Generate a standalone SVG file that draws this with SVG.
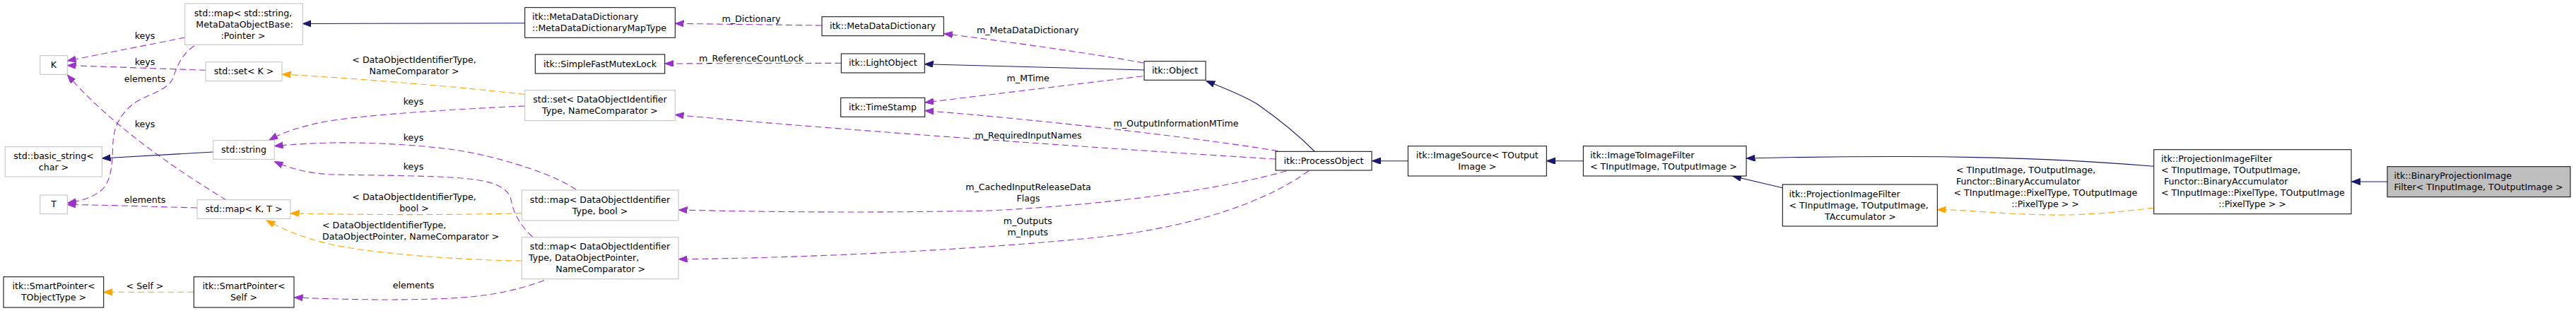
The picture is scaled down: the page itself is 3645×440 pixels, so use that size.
<svg xmlns="http://www.w3.org/2000/svg" width="3645" height="440" viewBox="0 0 3645 440">
<defs>
<style>
text{font-family:"DejaVu Sans","Liberation Sans",sans-serif;font-size:12.6px;fill:#000}
.m{text-anchor:middle}
.s{text-anchor:start}
.nb{fill:#fff;stroke:#000;stroke-width:1}
.ng{fill:#fff;stroke:#bfbfbf;stroke-width:1}
.nf{fill:#bfbfbf;stroke:#000;stroke-width:1}
.inh{fill:none;stroke:#191970;stroke-width:1.1;marker-end:url(#aN)}
.use{fill:none;stroke:#9a32cd;stroke-width:1.1;stroke-dasharray:9,5;marker-end:url(#aP)}
.tpl{fill:none;stroke:#ffa500;stroke-width:1.1;stroke-dasharray:9,5;marker-end:url(#aO)}
</style>
<marker id="aN" markerUnits="userSpaceOnUse" markerWidth="14" markerHeight="11" refX="12" refY="4.5" orient="auto"><path d="M0,0 L12,4.5 L0,9 z" fill="#191970" stroke="#191970" stroke-width="1"/></marker>
<marker id="aP" markerUnits="userSpaceOnUse" markerWidth="14" markerHeight="11" refX="12" refY="4.5" orient="auto"><path d="M0,0 L12,4.5 L0,9 z" fill="#9a32cd" stroke="#9a32cd" stroke-width="1"/></marker>
<marker id="aO" markerUnits="userSpaceOnUse" markerWidth="14" markerHeight="11" refX="12" refY="4.5" orient="auto"><path d="M0,0 L12,4.5 L0,9 z" fill="#ffa500" stroke="#ffa500" stroke-width="1"/></marker>
</defs>
<rect x="0" y="0" width="3645" height="440" fill="#fff"/>

<g id="connectors">
<path class="inh" d="M742.7,32.7 L428.5,33.5"/>
<path class="use" d="M262,53 L95.5,86"/>
<text class="m" x="205" y="55.2">keys</text>
<path class="use" d="M291,99.3 L95.5,92.5"/>
<text class="m" x="205" y="92.2">keys</text>
<path class="use" d="M275,65 C258,75 250,95 245,110 C238,130 200,135 185,150 C165,168 160,185 159.5,210 C159,240 155,262 140,272 C125,282 110,285 96,287"/>
<text class="m" x="205" y="116.2">elements</text>
<path class="use" d="M320,283 C250,240 160,180 95.5,106"/>
<text class="m" x="205" y="180.2">keys</text>
<path class="use" d="M279,294 C200,292 150,290 95.5,289.5"/>
<text class="m" x="205" y="287.2">elements</text>
<path class="inh" d="M301.7,215 L144.5,224"/>
<path class="tpl" d="M274.3,413.3 L146.7,413.3"/>
<text class="m" x="205" y="408.8">&lt; Self &gt;</text>

<path class="tpl" d="M742.7,133.5 C650,123 520,112 399.5,105"/>
<text class="m" x="586" y="88.8">&lt; DataObjectIdentifierType,</text>
<text class="m" x="586" y="104.8">NameComparator &gt;</text>
<path class="use" d="M742.7,150 C650,154 520,162 460,172 C420,180 400,188 381,198"/>
<text class="m" x="585" y="147.8">keys</text>
<path class="use" d="M815,268.3 C790,250 720,225 653,213.5 C600,205 520,201 470,202 C430,203 405,205 388.5,206.7"/>
<text class="m" x="585" y="198.8">keys</text>
<path class="use" d="M753.3,335 C735,318 726,300 723,282 C718,262 690,255 653,252 C600,248 520,248 470,247 C430,245 405,236 388.5,228.5"/>
<text class="m" x="585" y="239.8">keys</text>
<path class="tpl" d="M738.3,301.7 C650,304 520,304.5 411.5,301.7"/>
<text class="m" x="586" y="282.8">&lt; DataObjectIdentifierType,</text>
<text class="m" x="586" y="298.8">bool &gt;</text>
<path class="tpl" d="M738.3,369 C650,368 560,360 510,353 C460,346 420,335 377,311.7"/>
<text class="s" x="456" y="323">&lt; DataObjectIdentifierType,</text>
<text class="s" x="456" y="339">DataObjectPointer, NameComparator &gt;</text>
<path class="use" d="M770,396.7 C740,408 700,418 653,421 C600,425 500,425 416.5,420.7"/>
<text class="m" x="585" y="407.8">elements</text>

<path class="use" d="M1163,36 L955.5,33.3"/>
<text class="m" x="1063" y="31.2">m_Dictionary</text>
<path class="use" d="M1190.3,89.3 L941,90"/>
<text class="m" x="1063" y="86.8">m_ReferenceCountLock</text>
<path class="inh" d="M1619,99 L1308.5,90.7"/>
<path class="use" d="M1618,89 C1560,78 1420,58 1336,47.7"/>
<text class="m" x="1454.3" y="47.2">m_MetaDataDictionary</text>
<path class="use" d="M1617,107.7 L1309,145"/>
<text class="m" x="1454.7" y="115.2">m_MTime</text>
<path class="use" d="M1808,213.5 C1700,196 1500,172 1309,156.5"/>
<text class="m" x="1664" y="179.2">m_OutputInformationMTime</text>
<path class="use" d="M1805,225 C1650,216 1200,185 955.5,162.5"/>
<text class="m" x="1455" y="196.2">m_RequiredInputNames</text>
<path class="use" d="M1820,242 C1720,270 1560,290 1400,298 C1200,302 1050,299 960.5,297"/>
<text class="m" x="1455" y="269.2">m_CachedInputReleaseData</text>
<text class="m" x="1455" y="285.2">Flags</text>
<path class="use" d="M1851.7,241.7 C1800,280 1700,320 1560,335 C1400,352 1150,365 960.5,366.7"/>
<text class="m" x="1454.3" y="317.2">m_Outputs</text>
<text class="m" x="1454.3" y="333.2">m_Inputs</text>
<path class="inh" d="M1860,214 C1830,184 1800,162 1780,148 C1760,135 1730,124 1707,114.5"/>
<path class="inh" d="M1992.3,227.7 L1941.5,227.7"/>
<path class="inh" d="M2240.3,227.7 L2188.5,227.7"/>
<path class="inh" d="M2522.3,265.7 L2452,249.3"/>
<path class="inh" d="M3047.7,235.3 C2950,227 2850,222 2700,221.5 C2600,221.3 2520,222.8 2471.5,224"/>
<path class="tpl" d="M3047.7,294 C3000,300 2950,305 2900,304 C2830,303 2790,297 2741.5,296.7"/>
<text class="s" x="2768" y="245.2">&lt; TInputImage, TOutputImage,</text>
<text class="s" x="2768" y="261.2">Functor::BinaryAccumulator</text>
<text class="s" x="2764.5" y="277.2">&lt; TInputImage::PixelType, TOutputImage</text>
<text class="m" x="2894" y="293.2">::PixelType &gt; &gt;</text>
<path class="inh" d="M3378,257 L3327.5,257"/>
</g>

<g id="node-mapstr"><rect class="ng" x="261.7" y="5" width="166.6" height="58.3"/>
<text class="m" x="344" y="22.8">std::map&lt; std::string,</text>
<text class="m" x="346" y="38.8">MetaDataObjectBase:</text>
<text class="m" x="344" y="54.8">:Pointer &gt;</text></g>
<g id="node-K"><rect class="ng" x="56.7" y="78.7" width="38.6" height="26.6"/><text class="m" x="76" y="96.3">K</text></g>
<g id="node-setK"><rect class="ng" x="291" y="87.7" width="108" height="27"/><text class="m" x="345" y="104.5">std::set&lt; K &gt;</text></g>
<g id="node-basicstring"><rect class="ng" x="7.3" y="207.7" width="137" height="42.3"/>
<text class="m" x="76" y="224.5">std::basic_string&lt;</text><text class="m" x="76" y="240.5">char &gt;</text></g>
<g id="node-string"><rect class="ng" x="301.7" y="198.7" width="86.6" height="26.6"/><text class="m" x="345" y="215.8">std::string</text></g>
<g id="node-T"><rect class="ng" x="56.7" y="276" width="38.6" height="26.7"/><text class="m" x="76" y="293">T</text></g>
<g id="node-mapKT"><rect class="ng" x="279" y="282.7" width="132" height="26.6"/><text class="m" x="345" y="299.8">std::map&lt; K, T &gt;</text></g>
<g id="node-sp-tobj"><rect class="nb" x="5" y="391.7" width="141.7" height="43.3"/>
<text class="m" x="76" y="408.8">itk::SmartPointer&lt;</text><text class="m" x="76" y="424.8">TObjectType &gt;</text></g>
<g id="node-sp-self"><rect class="nb" x="274.3" y="391.7" width="141.7" height="43.3"/>
<text class="m" x="345" y="408.8">itk::SmartPointer&lt;</text><text class="m" x="345" y="424.8">Self &gt;</text></g>
<g id="node-maptype"><rect class="nb" x="742.7" y="10.7" width="212.6" height="42.6"/>
<text class="s" x="753" y="27.8">itk::MetaDataDictionary</text><text class="s" x="753" y="43.8">::MetaDataDictionaryMapType</text></g>
<g id="node-mutex"><rect class="nb" x="757.3" y="77" width="183.4" height="27"/><text class="m" x="849" y="94.8">itk::SimpleFastMutexLock</text></g>
<g id="node-setdoit"><rect class="ng" x="742.7" y="127.7" width="212.6" height="43"/>
<text class="m" x="849" y="144.8">std::set&lt; DataObjectIdentifier</text><text class="m" x="849" y="160.8">Type, NameComparator &gt;</text></g>
<g id="node-mapbool"><rect class="ng" x="738.3" y="269" width="221.7" height="43"/>
<text class="m" x="849" y="286.8">std::map&lt; DataObjectIdentifier</text><text class="m" x="849" y="302.8">Type, bool &gt;</text></g>
<g id="node-mapdop"><rect class="ng" x="738.3" y="335.7" width="221.7" height="59"/>
<text class="m" x="849" y="352.8">std::map&lt; DataObjectIdentifier</text>
<text class="s" x="748" y="368.8">Type, DataObjectPointer,</text>
<text class="m" x="849.7" y="384.8">NameComparator &gt;</text></g>
<g id="node-mdd"><rect class="nb" x="1163" y="23.7" width="172.3" height="27"/><text class="m" x="1249" y="41.2">itk::MetaDataDictionary</text></g>
<g id="node-lightobject"><rect class="nb" x="1190.3" y="76" width="118" height="27"/><text class="m" x="1249.3" y="93.2">itk::LightObject</text></g>
<g id="node-timestamp"><rect class="nb" x="1189.7" y="138.3" width="119" height="27"/><text class="m" x="1249" y="156.2">itk::TimeStamp</text></g>
<g id="node-object"><rect class="nb" x="1619" y="86.7" width="87" height="26.6"/><text class="m" x="1662.5" y="103.8">itk::Object</text></g>
<g id="node-processobject"><rect class="nb" x="1805" y="214.3" width="136" height="26.7"/><text class="m" x="1873" y="232.2">itk::ProcessObject</text></g>
<g id="node-imagesource"><rect class="nb" x="1992.3" y="206.7" width="196" height="42.3"/>
<text class="m" x="2090.3" y="223.8">itk::ImageSource&lt; TOutput</text><text class="m" x="2090.3" y="239.8">Image &gt;</text></g>
<g id="node-i2i"><rect class="nb" x="2240.3" y="206.7" width="230.7" height="42.3"/>
<text class="s" x="2250" y="223.8">itk::ImageToImageFilter</text><text class="s" x="2250" y="239.8">&lt; TInputImage, TOutputImage &gt;</text></g>
<g id="node-proj-acc"><rect class="nb" x="2522.3" y="261" width="219" height="59"/>
<text class="s" x="2531.5" y="278.8">itk::ProjectionImageFilter</text>
<text class="s" x="2531.5" y="294.8">&lt; TInputImage, TOutputImage,</text>
<text class="m" x="2632.5" y="310.8">TAccumulator &gt;</text></g>
<g id="node-proj-bin"><rect class="nb" x="3047.7" y="211.7" width="279.3" height="91"/>
<text class="s" x="3058" y="228.8">itk::ProjectionImageFilter</text>
<text class="s" x="3058" y="244.8">&lt; TInputImage, TOutputImage,</text>
<text class="s" x="3062" y="260.8">Functor::BinaryAccumulator</text>
<text class="s" x="3058" y="276.8">&lt; TInputImage::PixelType, TOutputImage</text>
<text class="m" x="3187" y="292.8">::PixelType &gt; &gt;</text></g>
<g id="node-binary"><rect class="nf" x="3378" y="235.7" width="259" height="43"/>
<text class="s" x="3387.5" y="252.8">itk::BinaryProjectionImage</text>
<text class="s" x="3387.5" y="268.8">Filter&lt; TInputImage, TOutputImage &gt;</text></g>
</svg>
